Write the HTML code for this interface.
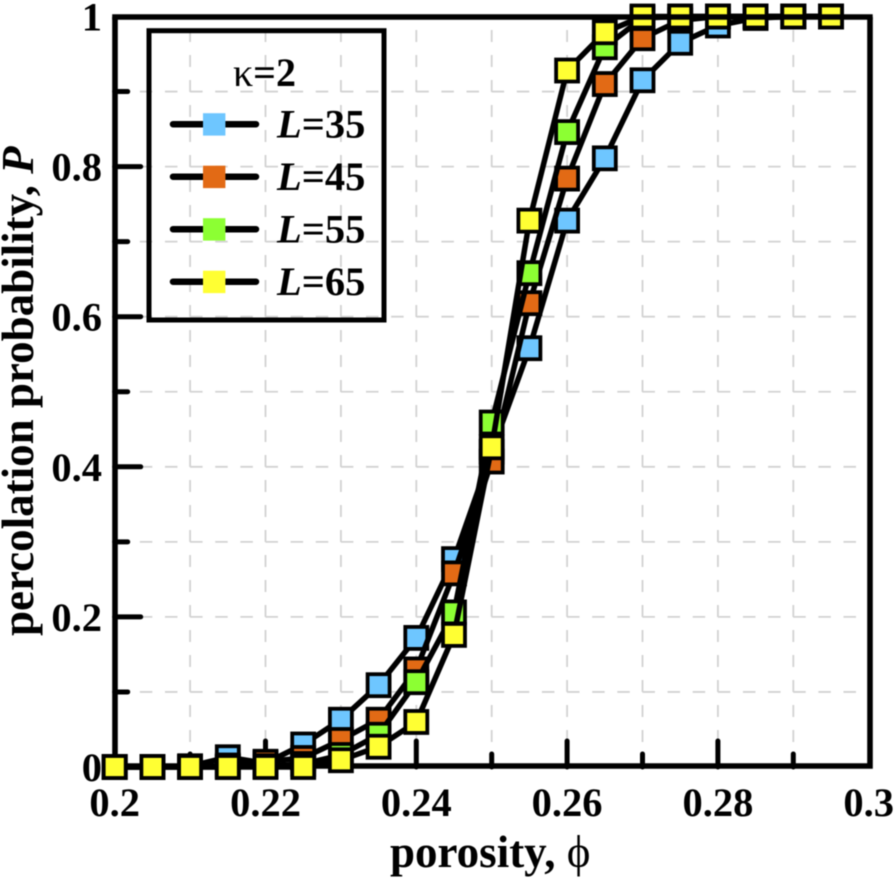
<!DOCTYPE html>
<html>
<head>
<meta charset="utf-8">
<title>Percolation probability vs porosity</title>
<style>
html,body{margin:0;padding:0;background:#fff;width:896px;height:884px;overflow:hidden}
svg{display:block;filter:blur(0.6px)}
text{font-family:"Liberation Serif",serif;font-weight:bold;fill:#000}
</style>
</head>
<body>
<svg id="chart" xmlns="http://www.w3.org/2000/svg" width="896" height="884" viewBox="0 0 896 884"></svg>
<script>
const porosity = [0.2,0.205,0.21,0.215,0.22,0.225,0.23,0.235,0.24,0.245,0.25,0.255,0.26,0.265,0.27,0.275,0.28,0.285,0.29,0.295];
const seriesNames = ['L=35','L=45','L=55','L=65'];
const seriesL35 = [0,0,0.001,0.013,0.005,0.03,0.063,0.109,0.172,0.277,0.42,0.558,0.728,0.811,0.915,0.965,0.988,0.998,1,1];
const seriesL45 = [0,0,0,0.002,0.007,0.012,0.036,0.063,0.13,0.258,0.407,0.618,0.784,0.91,0.971,0.995,1,1,1,1];
const seriesL55 = [0,0,0,0,0.001,0.004,0.016,0.043,0.113,0.206,0.459,0.658,0.846,0.959,0.998,1,1,1,1,1];
const seriesL65 = [0,0,0,0,0,0,0.009,0.027,0.06,0.176,0.426,0.728,0.928,0.979,1,1,1,1,1,1];
const seriesColors = ['#6ec6ff','#e26a15','#8cff33','#ffff33'];
const xTickLabels = ['0.2','0.22','0.24','0.26','0.28','0.3'];
const yTickLabels = ['0','0.2','0.4','0.6','0.8','1'];

const NS = 'http://www.w3.org/2000/svg';
const svg = document.getElementById('chart');
const X0 = 114.7, X1 = 868.7, Y0 = 767, Y1 = 16.5;
const xScale = v => X0 + (v - 0.2) / 0.1 * (X1 - X0);
const yScale = v => Y0 + v * (Y1 - Y0);

function make(tag, attrs, parent) {
  const el = document.createElementNS(NS, tag);
  for (const k in attrs) el.setAttribute(k, attrs[k]);
  (parent || svg).appendChild(el);
  return el;
}

/* grid */
const grid = make('g', {stroke:'#d2d2d2','stroke-width':1.8,fill:'none'});


for (let i = 1; i < 10; i++) {
  const x = xScale(0.2 + i * 0.01);
  const v = make('line', {x1:x,x2:x,y1:Y0,y2:Y1+6,'stroke-dasharray':'12 13'}, grid);
  
  
  const y = yScale(i * 0.1);
  const h = make('line', {x1:X0,x2:X1-11,y1:y,y2:y,'stroke-dasharray':'12.5 12.63'}, grid);
  
  
}

/* frame below markers */
const frame = make('path', {d:'M115 766V17M112 766H872.7M870 768.7V17',stroke:'#000','stroke-width':5.6,fill:'none'});



/* ticks */
const ticks = make('g', {stroke:'#000','stroke-width':5,'stroke-linecap':'round'});


for (let i = 1; i < 10; i++) {
  const len = i % 2 === 0 ? 26 : 13;
  const x = xScale(0.2 + i * 0.01);
  const tx = make('line', {x1:x,x2:x,y1:Y0,y2:Y0-len}, ticks);
  
  
  const y = yScale(i * 0.1);
  const ty = make('line', {x1:X0,x2:X0+len,y1:y,y2:y}, ticks);
  
  
}

/* tick labels */
xTickLabels.forEach(t => {
  const el = make('text', {x:xScale(parseFloat(t)),y:816,'text-anchor':'middle','font-size':40.5});
  
  
  el.textContent = t;
});
yTickLabels.forEach(t => {
  const el = make('text', {x:102,y:yScale(parseFloat(t))+14,'text-anchor':'end','font-size':40.5});
  
  
  el.textContent = t;
});

/* series */
[seriesL35, seriesL45, seriesL55, seriesL65].forEach((vals, s) => {
  const g = make('g', {});
  
  
  const pts = vals.map((v, i) => xScale(porosity[i]).toFixed(1) + ',' + yScale(v).toFixed(1)).join(' ');
  const line = make('polyline', {points:pts,fill:'none',stroke:'#000','stroke-width':5.5,'stroke-linejoin':'round'}, g);
  
  
  vals.forEach((v, i) => {
    const m = make('rect', {x:xScale(porosity[i])-11,y:yScale(v)-11,width:22,height:22,fill:seriesColors[s],stroke:'#000','stroke-width':3.8}, g);
    
    
  });
});

/* top frame line drawn over markers */
const topLine = make('line', {x1:112.2,x2:872.7,y1:17,y2:17,stroke:'#000','stroke-width':5.6});



/* legend */
const legend = make('g', {});


const box = make('rect', {x:149,y:30.7,width:235,height:289.3,fill:'none',stroke:'#000','stroke-width':5}, legend);


const kappa = make('text', {x:233,y:86,'font-size':40}, legend);


const k1 = make('tspan', {'font-weight':'normal'}, kappa);
k1.textContent = 'κ';
const k2 = make('tspan', {}, kappa);
k2.textContent = '=2';
const legendRows = [124.5, 177, 229.5, 282];
seriesNames.forEach((name, i) => {
  const y = legendRows[i];
  const entry = make('g', {}, legend);
  
  
  const l = make('line', {x1:173,x2:256,y1:y-0.3,y2:y-0.3,stroke:'#000','stroke-width':6.5,'stroke-linecap':'round'}, entry);
  
  
  const r = make('rect', {x:203,y:y-11.3,width:22.4,height:22.4,fill:seriesColors[i]}, entry);
  
  
  const t = make('text', {x:277,y:y+13,'font-size':40.5}, entry);
  
  
  const it = make('tspan', {'font-style':'italic'}, t);
  it.textContent = 'L';
  const rest = make('tspan', {}, t);
  rest.textContent = name.slice(1);
});

/* axis titles */
const xTitle = make('text', {x:390,y:867,'font-size':45});


const xt1 = make('tspan', {}, xTitle);
xt1.textContent = 'porosity, ';
const xt2 = make('tspan', {'font-weight':'normal'}, xTitle);
xt2.textContent = 'ϕ';

const yTitle = make('text', {transform:'translate(33,636) rotate(-90)','font-size':45});


const yt1 = make('tspan', {}, yTitle);
yt1.textContent = 'percolation probability, ';
const yt2 = make('tspan', {'font-style':'italic'}, yTitle);
yt2.textContent = 'P';
</script>
</body>
</html>
